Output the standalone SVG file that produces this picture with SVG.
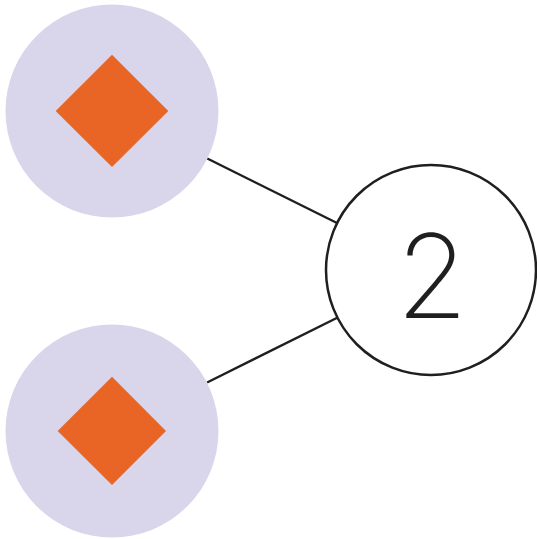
<svg xmlns="http://www.w3.org/2000/svg" width="537" height="539" viewBox="0 0 537 539">
<style>
.src{fill:#d9d5eb}
.dia{fill:#e86526}
.edge{stroke:#1f1f1f;stroke-width:2.4;fill:none}
.hub{fill:#ffffff;stroke:#1f1f1f;stroke-width:2.5}
.lbl{font-family:Inter,"Liberation Sans",sans-serif;font-weight:200;font-size:116px;fill:#1f1f1f}
</style>
<rect width="537" height="539" fill="#ffffff"/>
<g id="connectors">
<line class="edge" x1="207.3" y1="158.5" x2="337" y2="223"/>
<line class="edge" x1="207.1" y1="382.5" x2="337.2" y2="317.8"/>
</g>
<g id="node-top">
<circle class="src" cx="112" cy="111" r="106.5"/>
<polygon class="dia" points="112,54.7 168.3,111 112,167 55.7,111"/>
</g>
<g id="node-bottom">
<circle class="src" cx="112" cy="431" r="106.5"/>
<polygon class="dia" points="112,376.7 166,431 112,485 57.7,431"/>
</g>
<g id="node-hub">
<circle class="hub" cx="431" cy="270" r="105"/>
<text class="lbl" x="432" y="318" text-anchor="middle">2</text>
</g>
</svg>
